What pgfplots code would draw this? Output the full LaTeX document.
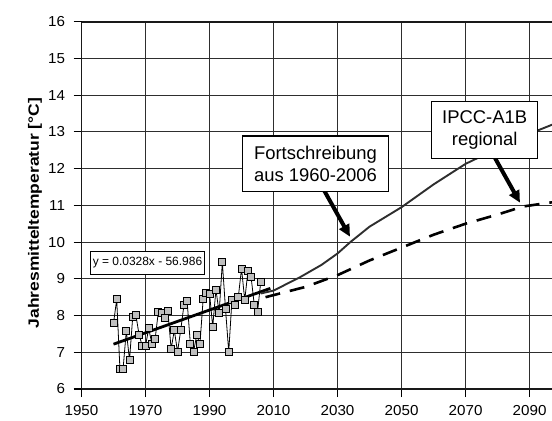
\documentclass[border=0pt]{standalone}
\usepackage{fontspec}
\setmainfont{Liberation Sans}[FakeStretch=1.05]
\newfontfamily\plainsans{Liberation Sans}
\usepackage{pgfplots}
\pgfplotsset{compat=1.18}
\usetikzlibrary{arrows.meta}

\begin{document}
\begin{tikzpicture}
\useasboundingbox (0,0) rectangle (552bp,421bp);
\begin{axis}[
  at={(81.5bp,32bp)}, anchor=south west,
  scale only axis, width=470.5bp, height=367.3bp,
  xmin=1950, xmax=2097, ymin=6, ymax=16,
  xtick={1950,1970,...,2090}, ytick={6,7,...,16},
  axis x line=box, axis y line=left, xtick pos=lower,
  axis line style={-, line width=1.9bp, black!90},
  grid=major, major grid style={line width=1.1bp, black!82},
  tick align=outside, major tick length=8bp, tick style={line width=1.1bp, black},
  /pgf/number format/assume math mode=true, /pgf/number format/1000 sep={},
  tick label style={font=\fontsize{14.5}{16}\selectfont},
  yticklabel style={xshift=-5bp},
  xticklabel style={yshift=-5bp},
]
% annual means 1960-2006
\addplot[black, line width=0.8bp, mark=square*, mark size=3.5bp,
  mark options={fill=gray!50, draw=black, line width=0.8bp, solid}]
  coordinates {
  (1960,7.79) (1961,8.44) (1962,6.56) (1963,6.56) (1964,7.58) (1965,6.79)
  (1966,7.96) (1967,8.01) (1968,7.47) (1969,7.17) (1970,7.17) (1971,7.65)
  (1972,7.22) (1973,7.36) (1974,8.10) (1975,8.07) (1976,7.94) (1977,8.12)
  (1978,7.09) (1979,7.60) (1980,7.01) (1981,7.60) (1982,8.28) (1983,8.39)
  (1984,7.24) (1985,7.01) (1986,7.47) (1987,7.22) (1988,8.44) (1989,8.62)
  (1990,8.60) (1991,7.69) (1992,8.71) (1993,8.07) (1994,9.45) (1995,8.17)
  (1996,7.01) (1997,8.42) (1998,8.30) (1999,8.51) (2000,9.28) (2001,8.42)
  (2002,9.21) (2003,9.04) (2004,8.28) (2005,8.10) (2006,8.92)
  };
% linear trend
\addplot[black, line width=2.8bp] coordinates {(1960,7.22) (2009,8.74)};
% Fortschreibung
\addplot[black!82, line width=1.9bp] coordinates {
  (2006,8.60) (2010,8.68) (2018,9.03) (2025,9.38) (2030,9.69) (2034,10.0)
  (2040,10.42) (2050,10.95) (2060,11.57) (2070,12.13) (2080,12.55)
  (2090,12.95) (2100,13.30)
  };
% IPCC-A1B regional
\addplot[black, line width=2.6bp, dash pattern=on 15bp off 10bp] coordinates {
  (2007.5,8.50) (2020,8.78) (2030,9.10) (2040,9.50) (2050,9.85) (2060,10.20)
  (2070,10.50) (2080,10.75) (2088,10.97) (2100,11.12)
  };
\end{axis}

\node[rotate=90, font=\plainsans\bfseries\fontsize{15}{17}\selectfont]
  at (35bp,208bp) {\scalebox{1.17}[1]{Jahresmitteltemperatur [°C]}};

\draw[line width=4bp, -{Triangle[length=12bp,width=11bp]}]
  (323.3bp,232bp) -- (350bp,184.3bp);
\draw[line width=4bp, -{Triangle[length=12bp,width=11bp]}]
  (493.3bp,266bp) -- (520bp,218.3bp);

\node[draw, line width=1.3bp, fill=white, inner sep=0pt, align=center,
  minimum width=145.6bp, minimum height=55.7bp,
  font=\plainsans\fontsize{18.5}{21.6}\selectfont]
  at (315.5bp,257.2bp) {Fortschreibung\\aus 1960-2006};
\node[draw, line width=1.3bp, fill=white, inner sep=0pt, align=center,
  minimum width=106bp, minimum height=56.6bp,
  font=\plainsans\fontsize{18.5}{22}\selectfont]
  at (484.7bp,291bp) {IPCC-A1B\\regional};
\node[draw, line width=1.2bp, fill=white, inner sep=0pt,
  minimum width=113.6bp, minimum height=22.6bp,
  font=\plainsans\fontsize{12}{14}\selectfont]
  at (147.5bp,158bp) {y = 0.0328x - 56.986};
\end{tikzpicture}
\end{document}
